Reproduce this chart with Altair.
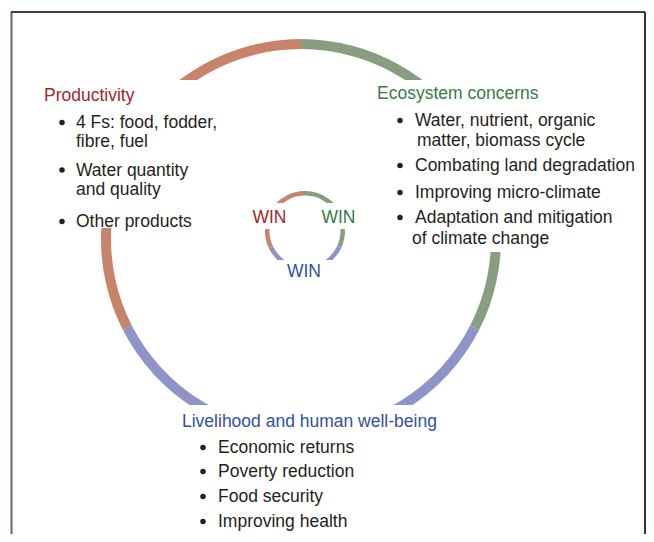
import altair as alt
import pandas as pd
import math

# ---------------- data ----------------
headings = ["Productivity", "Ecosystem concerns", "Livelihood and human well-being"]
heading_colors = ["#a3262b", "#3a7a46", "#3250a0"]

prod_items = [["4 Fs: food, fodder,", "fibre, fuel"], ["Water quantity", "and quality"], ["Other products"]]
eco_items = [["Water, nutrient, organic", "matter, biomass cycle"], ["Combating land degradation"],
             ["Improving micro-climate"], ["Adaptation and mitigation", "of climate change"]]
live_items = [["Economic returns"], ["Poverty reduction"], ["Food security"], ["Improving health"]]

ring_names = ["Productivity", "Ecosystem concerns", "Livelihood"]
ring_start_deg = [243, 0, 117]
ring_end_deg = [360, 117, 243]
ring_colors = ["#c8836b", "#879f80", "#8e93c8"]

small_start_deg = [245, 0, 115]
small_end_deg = [360, 115, 245]

win_labels = ["WIN", "WIN", "WIN"]

# ---------------- layout (page pixels) ----------------
W, H = 638, 526
OFF = 8
FONT = "Liberation Sans"
FS = 17.5
TXT = "#231f20"
BIG = dict(cx=301, cy=239, r=200, r2=190)
SMALL = dict(cx=305, cy=231, r=40, r2=35.5)

xs = alt.Scale(domain=[OFF, OFF + W])
ys = alt.Scale(domain=[OFF + H, OFF])


def ring_df(starts, ends):
    return pd.DataFrame({
        "name": ring_names,
        "t0": [math.radians(s) for s in starts],
        "t1": [math.radians(e) for e in ends],
        "color": ring_colors,
    })


def ring_layer(df, g):
    return alt.Chart(df).mark_arc(radius=g["r"], radius2=g["r2"]).encode(
        theta=alt.Theta("t0:Q", scale=None),
        theta2="t1:Q",
        color=alt.Color("color:N", scale=None),
        x=alt.value(g["cx"] - OFF),
        y=alt.value(g["cy"] - OFF),
    )


big_ring = ring_layer(ring_df(ring_start_deg, ring_end_deg), BIG)
small_ring = ring_layer(ring_df(small_start_deg, small_end_deg), SMALL)

# white boxes behind text that hide the rings
boxes = pd.DataFrame({
    "x": [30, 368, 170, 250, 318, 272],
    "x2": [232, 640, 450, 290, 360, 338],
    "y": [80, 80, 405, 203, 203, 260],
    "y2": [228, 252, 534, 229, 229, 290],
})
box_layer = alt.Chart(boxes).mark_rect(color="white").encode(
    x=alt.X("x:Q", scale=xs, axis=None), x2="x2",
    y=alt.Y("y:Q", scale=ys, axis=None), y2="y2",
)

# text blocks
blocks = [
    dict(items=prod_items, hx=44, hy=101, dot=62, tx=76, cont=76,
         lines=[[128, 147], [175.5, 195], [227]]),
    dict(items=eco_items, hx=377, hy=99, dot=400, tx=415, cont=[417, None, None, 412],
         lines=[[126, 146], [171], [198], [223, 244]]),
    dict(items=live_items, hx=182, hy=427, dot=203, tx=218, cont=218,
         lines=[[453], [477], [502], [527]]),
]

head_rows, line_rows, dot_rows = [], [], []
for i, b in enumerate(blocks):
    head_rows.append(dict(text=headings[i], x=b["hx"], y=b["hy"], color=heading_colors[i]))
    for j, item in enumerate(b["items"]):
        ys_ = b["lines"][j]
        dot_rows.append(dict(x=b["dot"], y=ys_[0] - 5.5))
        for k, t in enumerate(item):
            if k == 0:
                x = b["tx"]
            else:
                c = b["cont"]
                x = c[j] if isinstance(c, list) else c
            line_rows.append(dict(text=t, x=x, y=ys_[k]))

heads = alt.Chart(pd.DataFrame(head_rows)).mark_text(
    align="left", baseline="alphabetic", font=FONT, fontSize=FS).encode(
    x=alt.X("x:Q", scale=xs), y=alt.Y("y:Q", scale=ys), text="text:N",
    color=alt.Color("color:N", scale=None))

lines = alt.Chart(pd.DataFrame(line_rows)).mark_text(
    align="left", baseline="alphabetic", font=FONT, fontSize=FS, color=TXT).encode(
    x=alt.X("x:Q", scale=xs), y=alt.Y("y:Q", scale=ys), text="text:N")

dots = alt.Chart(pd.DataFrame(dot_rows)).mark_circle(size=30, color=TXT, opacity=1).encode(
    x=alt.X("x:Q", scale=xs), y=alt.Y("y:Q", scale=ys))

wins = alt.Chart(pd.DataFrame({
    "text": win_labels, "x": [269.5, 338.5, 304], "y": [223, 223, 277],
    "color": heading_colors,
})).mark_text(align="center", baseline="alphabetic", font=FONT, fontSize=FS).encode(
    x=alt.X("x:Q", scale=xs), y=alt.Y("y:Q", scale=ys), text="text:N",
    color=alt.Color("color:N", scale=None))

frame = alt.Chart(pd.DataFrame({
    "x": [11.5, 11, 645], "x2": [11.5, 645, 645],
    "y": [12, 12, 12], "y2": [534, 12, 534],
    "c": ["#76605c", "#5b3533", "#4e2c2b"],
})).mark_rule(strokeWidth=2).encode(
    x=alt.X("x:Q", scale=xs), x2="x2",
    y=alt.Y("y:Q", scale=ys), y2="y2",
    color=alt.Color("c:N", scale=None))

chart = alt.layer(big_ring, small_ring, box_layer, frame, heads, lines, dots, wins).properties(
    width=W, height=H, padding=0, autosize="none", background="white"
).configure_view(stroke=None).configure_axis(disable=True)

chart.save("out.html", embed_options={"renderer": "svg", "actions": False})
